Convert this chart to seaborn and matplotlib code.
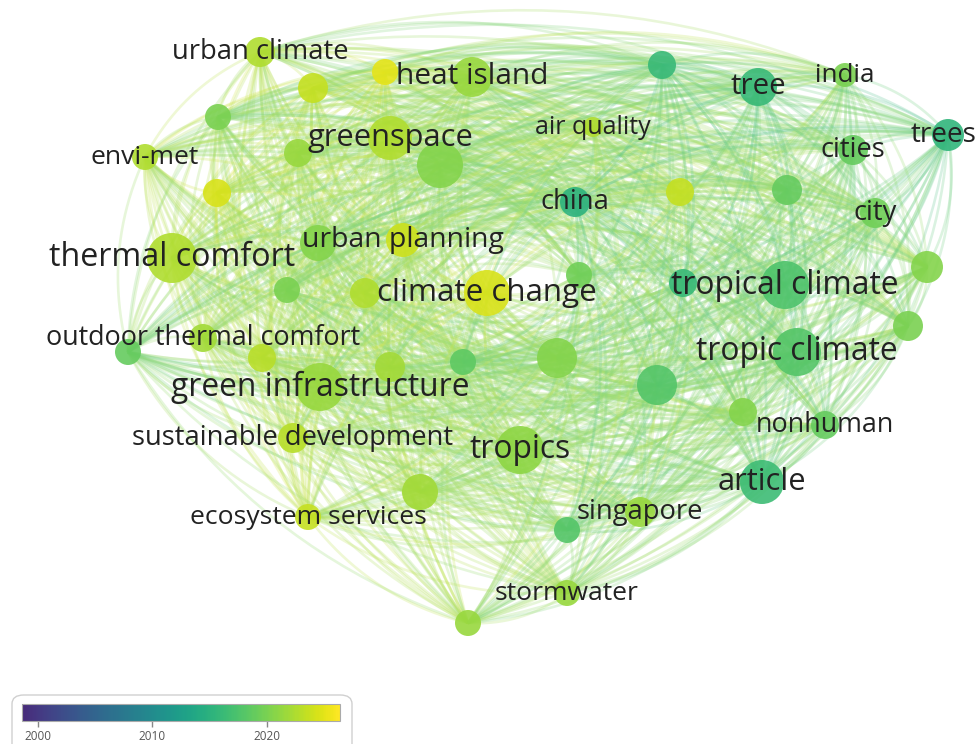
import matplotlib
matplotlib.use("Agg")
import matplotlib.pyplot as plt
import seaborn as sns
import pandas as pd
import numpy as np
from matplotlib.collections import LineCollection
from matplotlib.patches import FancyBboxPatch
import matplotlib.colors as mcolors

sns.set_theme(style="white")
plt.rcParams["font.family"] = ["Open Sans", "DejaVu Sans"]

# keyword network, layout coordinates (pixels)
labels = [
    "urban climate", "", "", "heat island", "", "greenspace", "", "", "envi-met", "",
    "thermal comfort", "", "urban planning", "", "", "climate change", "", "outdoor thermal comfort", "", "green infrastructure",
    "", "", "sustainable development", "tropics", "", "ecosystem services", "", "stormwater", "", "singapore",
    "article", "nonhuman", "", "", "", "tropic climate", "", "", "tropical climate", "",
    "", "china", "", "", "city", "cities", "trees", "india", "tree", "",
    "air quality",
]
node_x = [
    260, 313, 385, 472, 218, 390, 298, 440, 145, 217,
    172, 318, 403, 287, 365, 487, 128, 203, 262, 320,
    390, 463, 293, 520, 420, 308, 468, 567, 567, 640,
    762, 825, 743, 657, 557, 797, 908, 927, 785, 683,
    579, 575, 680, 787, 875, 853, 948, 845, 758, 662,
    593,
]
node_y = [
    52, 88, 72, 77, 117, 138, 153, 165, 157, 193,
    258, 243, 240, 290, 293, 293, 352, 338, 358, 387,
    367, 362, 438, 450, 492, 517, 623, 593, 530, 512,
    482, 425, 412, 385, 358, 352, 326, 267, 285, 283,
    275, 202, 192, 190, 213, 150, 135, 75, 87, 65,
    127,
]
# node weight shown as radius (pixels)
node_r = [
    15, 15, 13, 20, 13, 22, 14, 23, 13, 14,
    25, 18, 17, 13, 15, 23, 13, 14, 14, 24,
    15, 13, 15, 24, 18, 13, 13, 13, 13, 15,
    22, 14, 14, 20, 20, 24, 15, 16, 24, 14,
    13, 15, 14, 15, 15, 15, 16, 12, 19, 14,
    10,
]
# average publication year (overlay colour)
avg_year = [
    2022.5, 2023.5, 2025.0, 2021.5, 2020.0, 2022.5, 2021.5, 2020.5, 2022.5, 2024.5,
    2022.5, 2020.5, 2024.0, 2020.0, 2022.5, 2024.5, 2019.0, 2022.0, 2023.0, 2021.5,
    2022.0, 2018.5, 2023.0, 2021.0, 2022.0, 2023.5, 2021.5, 2021.5, 2018.0, 2021.5,
    2016.5, 2019.0, 2020.5, 2018.0, 2020.5, 2018.0, 2020.0, 2020.5, 2017.5, 2016.0,
    2019.5, 2015.0, 2023.5, 2019.0, 2019.5, 2019.0, 2015.5, 2020.0, 2016.0, 2016.0,
    2022.5,
]
year_range = (1998.6, 2026.4)
cbar_ticks = [2000, 2010, 2020]

df = pd.DataFrame({"x": node_x, "y": node_y, "r": node_r, "year": avg_year, "label": labels})
# scatter marker area in points^2 from pixel radius at dpi 100
df["area"] = (2 * df["r"] * 0.72) ** 2

norm = mcolors.Normalize(*year_range)
cmap = mcolors.ListedColormap(plt.cm.viridis(np.linspace(0.12, 1.0, 256)))

fig = plt.figure(figsize=(9.78, 7.44), dpi=100)
ax = fig.add_axes([0, 0, 1, 1])

# curved links, bent away from the middle of the map
cx, cy = df["x"].mean(), df["y"].mean()
t = np.linspace(0, 1, 24)[:, None]
segs, cols = [], []
n = len(df)
for i in range(n):
    for j in range(i + 1, n):
        p0 = np.array([node_x[i], node_y[i]], float)
        p2 = np.array([node_x[j], node_y[j]], float)
        d = p2 - p0
        dist = np.hypot(*d)
        perp = np.array([-d[1], d[0]]) / dist
        mid = (p0 + p2) / 2
        if np.dot(mid - [cx, cy], perp) < 0:
            perp = -perp
        p1 = mid + perp * dist * 0.18
        curve = (1 - t) ** 2 * p0 + 2 * (1 - t) * t * p1 + t ** 2 * p2
        segs.append(curve)
        rgb = np.array(cmap(norm((avg_year[i] + avg_year[j]) / 2))[:3])
        rgb = rgb * 0.8 + 0.2
        cols.append((*rgb, 0.25))
ax.add_collection(LineCollection(segs, colors=cols, linewidths=1.9, zorder=1))

sns.scatterplot(data=df, x="x", y="y", hue="year", palette=cmap, hue_norm=year_range,
                size="area", sizes=(df["area"].min(), df["area"].max()),
                size_norm=(df["area"].min(), df["area"].max()),
                alpha=0.9, linewidth=0, legend=False, ax=ax, zorder=2)
ax.set_xlim(0, 978)
ax.set_ylim(744, 0)
ax.axis("off")

label_dx = {"trees": -4}
for _, row in df.iterrows():
    if row["label"]:
        ax.text(row["x"] + label_dx.get(row["label"], 0), row["y"], row["label"],
                ha="center", va="center", fontsize=14.5 + 0.35 * row["r"],
                color="#222222", zorder=3)

# colour scale box
box = FancyBboxPatch((12 / 978, -0.02), 340 / 978, (744 - 695) / 744 + 0.02,
                     boxstyle="round,pad=0,rounding_size=0.012", transform=fig.transFigure,
                     facecolor="none", edgecolor="#d0d0d0", linewidth=1, zorder=-1)
fig.patches.append(box)
cax = fig.add_axes([22 / 978, (744 - 721) / 744, 318 / 978, 17 / 744])
cax.set_zorder(5)
sm = plt.cm.ScalarMappable(norm=norm, cmap=cmap)
cb = fig.colorbar(sm, cax=cax, orientation="horizontal", ticks=cbar_ticks)
cb.outline.set_edgecolor("#aaaaaa")
cb.outline.set_linewidth(0.8)
cax.tick_params(axis="x", direction="inout", length=9, width=1, color="#888888",
                labelsize=8.5, labelcolor="#555555", pad=2)

fig.savefig("out.png", dpi=100)
